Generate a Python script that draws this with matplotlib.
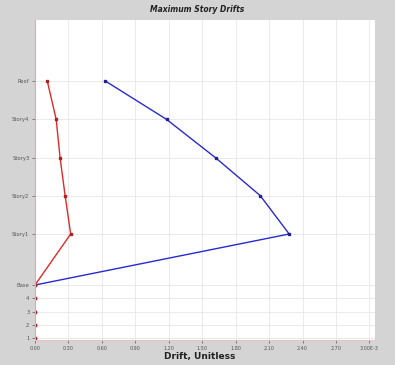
import matplotlib.pyplot as plt
import numpy as np

# Story levels and elevations
levels = ['1', '2', '3', '4', 'Base', 'Story1', 'Story2', 'Story3', 'Story4', 'Roof']
elev = [-4, -3, -2, -1, 0, 3.85, 6.75, 9.6, 12.5, 15.4]

# Drifts (x 1E-3)
drift_x = [0, 0, 0, 0, 0, 0.32, 0.27, 0.225, 0.19, 0.11]
drift_y = [0, 0, 0, 0, 0, 2.28, 2.02, 1.62, 1.18, 0.63]

xticks = np.arange(0, 3.01, 0.3)
xlabels = ['%.2f' % t for t in xticks[:-1]] + ['3.00E-3']

fig = plt.figure(figsize=(3.95, 3.65), dpi=100, facecolor='#d4d4d4')
ax = fig.add_axes([35/395, 25/365, 340/395, 320/365])
ax.set_facecolor('white')

ax.plot(drift_y, elev, color='#2a2ad0', lw=1, marker='s', ms=2, mfc='#202090', mec='#202090')
ax.plot(drift_x, elev, color='#e02a2a', lw=1, marker='s', ms=2, mfc='#b02020', mec='#b02020')

ax.set_xlim(0, 3.05)
ax.set_ylim(-4.15, 20)
ax.set_xticks(xticks)
ax.set_xticklabels(xlabels, fontsize=3.5)
ax.set_yticks(elev)
ax.set_yticklabels(levels, fontsize=3.8)
ax.tick_params(length=2, width=0.5, pad=2, colors='#555555')
ax.grid(True, color='#e6e6e6', lw=0.6)
ax.set_axisbelow(True)
for s in ax.spines.values():
    s.set_visible(False)
ax.spines['left'].set_visible(True)
ax.spines['bottom'].set_visible(True)
ax.spines['left'].set_color('#f0a0a8')
ax.spines['bottom'].set_color('#f0c0c8')

fig.text(0.5, 1 - 10/365, 'Maximum Story Drifts', ha='center', va='center',
         fontsize=5.5, fontweight='bold', style='italic', color='#222222')
fig.text(200/395, 1 - 357/365, 'Drift, Unitless', ha='center', va='center',
         fontsize=6.5, fontweight='bold', color='#222222')

plt.savefig('out.png', dpi=100, facecolor=fig.get_facecolor())
